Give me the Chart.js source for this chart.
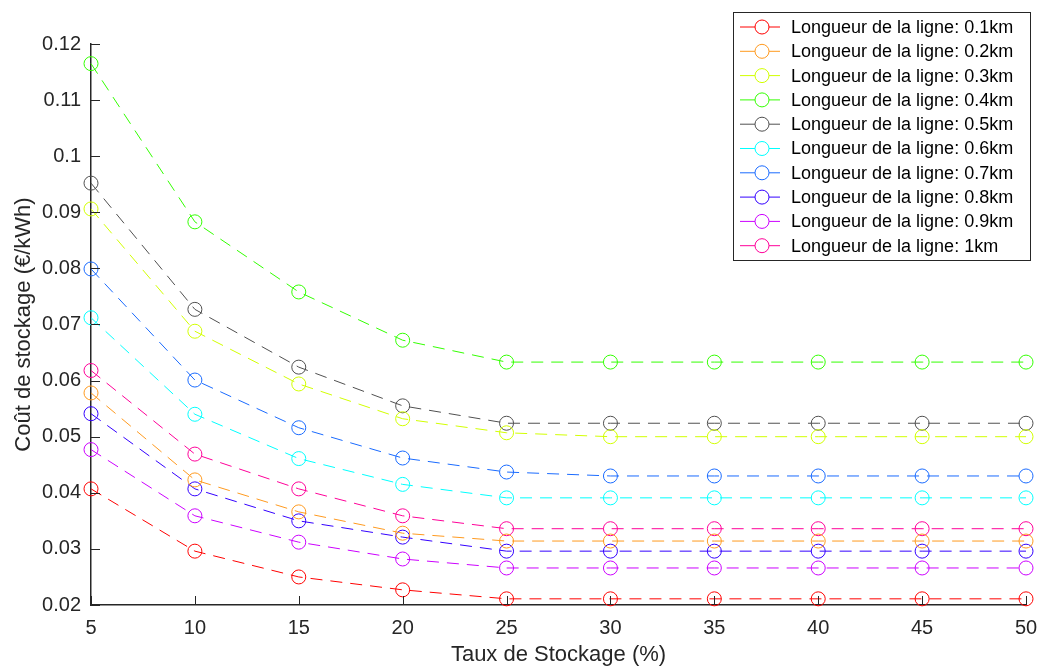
<!DOCTYPE html>
<html>
<head>
<meta charset="utf-8">
<script src="https://cdn.jsdelivr.net/npm/chart.js@4/dist/chart.umd.min.js"></script>
<style>
  html, body { margin: 0; padding: 0; background: #fff; }
  #wrap { width: 1041px; height: 667px; position: relative; }
</style>
</head>
<body>
<div id="wrap"><canvas id="chart"></canvas></div>
<script>
// taux de stockage (%)
const storageRates = [5, 10, 15, 20, 25, 30, 35, 40, 45, 50];

// cout de stockage (€/kWh) par longueur de ligne
const cost01 = [0.0407, 0.0296, 0.0250, 0.0227, 0.0211, 0.0211, 0.0211, 0.0211, 0.0211, 0.0211];
const cost02 = [0.0578, 0.0423, 0.0366, 0.0328, 0.0314, 0.0314, 0.0314, 0.0314, 0.0314, 0.0314];
const cost03 = [0.0906, 0.0688, 0.0594, 0.0532, 0.0507, 0.0500, 0.0500, 0.0500, 0.0500, 0.0500];
const cost04 = [0.1165, 0.0883, 0.0758, 0.0672, 0.0633, 0.0633, 0.0633, 0.0633, 0.0633, 0.0633];
const cost05 = [0.0952, 0.0727, 0.0624, 0.0555, 0.0524, 0.0524, 0.0524, 0.0524, 0.0524, 0.0524];
const cost06 = [0.0712, 0.0540, 0.0461, 0.0415, 0.0391, 0.0391, 0.0391, 0.0391, 0.0391, 0.0391];
const cost07 = [0.0799, 0.0601, 0.0516, 0.0462, 0.0437, 0.0430, 0.0430, 0.0430, 0.0430, 0.0430];
const cost08 = [0.0541, 0.0407, 0.0350, 0.0321, 0.0296, 0.0296, 0.0296, 0.0296, 0.0296, 0.0296];
const cost09 = [0.0477, 0.0359, 0.0312, 0.0282, 0.0266, 0.0266, 0.0266, 0.0266, 0.0266, 0.0266];
const cost10 = [0.0618, 0.0469, 0.0407, 0.0359, 0.0336, 0.0336, 0.0336, 0.0336, 0.0336, 0.0336];

const seriesLabels = [
  'Longueur de la ligne: 0.1km', 'Longueur de la ligne: 0.2km', 'Longueur de la ligne: 0.3km',
  'Longueur de la ligne: 0.4km', 'Longueur de la ligne: 0.5km', 'Longueur de la ligne: 0.6km',
  'Longueur de la ligne: 0.7km', 'Longueur de la ligne: 0.8km', 'Longueur de la ligne: 0.9km',
  'Longueur de la ligne: 1km'
];
const seriesValues = [cost01, cost02, cost03, cost04, cost05, cost06, cost07, cost08, cost09, cost10];
const seriesColors = ['#ff0000', '#ff9a1f', '#d2ff00', '#33ff00', '#505050',
                      '#00ffff', '#1a6bff', '#3300ff', '#cc00ff', '#ff0099'];

const yTicks = [0.02, 0.03, 0.04, 0.05, 0.06, 0.07, 0.08, 0.09, 0.1, 0.11, 0.12];

const FONT = "'Liberation Sans', Arial, Helvetica, sans-serif";
const AXIS = '#262626';

const datasets = seriesValues.map((vals, i) => ({
  label: seriesLabels[i],
  data: storageRates.map((x, j) => ({ x: x, y: vals[j] })),
  borderColor: seriesColors[i],
  backgroundColor: 'transparent',
  borderWidth: 1,
  borderDash: [12, 8],
  tension: 0,
  pointRadius: 7,
  pointBorderWidth: 1,
  pointBorderColor: seriesColors[i],
  pointBackgroundColor: 'transparent',
  clip: false
}));

// ticks vers l'interieur, comme dans matlab
const innerTicks = {
  id: 'innerTicks',
  afterDatasetsDraw(chart) {
    const ctx = chart.ctx;
    const xs = chart.scales.x, ys = chart.scales.y;
    const a = chart.chartArea;
    ctx.save();
    ctx.strokeStyle = AXIS;
    ctx.lineWidth = 1;
    xs.ticks.forEach(t => {
      const px = Math.round(xs.getPixelForValue(t.value)) + 0.5;
      ctx.beginPath(); ctx.moveTo(px, a.bottom); ctx.lineTo(px, a.bottom - 9); ctx.stroke();
    });
    ys.ticks.forEach(t => {
      const py = Math.round(ys.getPixelForValue(t.value)) + 0.5;
      ctx.beginPath(); ctx.moveTo(a.left, py); ctx.lineTo(a.left + 9, py); ctx.stroke();
    });
    ctx.restore();
  }
};

// legende encadree en haut a droite
const boxLegend = {
  id: 'boxLegend',
  afterDraw(chart) {
    const ctx = chart.ctx;
    const x0 = 733, y0 = 12, w = 297, h = 248;
    ctx.save();
    ctx.fillStyle = '#fff';
    ctx.fillRect(x0, y0, w, h);
    ctx.strokeStyle = AXIS;
    ctx.lineWidth = 1;
    ctx.strokeRect(x0 + 0.5, y0 + 0.5, w, h);
    ctx.font = '18px ' + FONT;
    ctx.textBaseline = 'middle';
    chart.data.datasets.forEach((ds, i) => {
      const cy = y0 + 15 + i * 24.3;
      ctx.strokeStyle = ds.borderColor;
      ctx.beginPath(); ctx.moveTo(740, cy); ctx.lineTo(780, cy); ctx.stroke();
      ctx.fillStyle = '#fff';
      ctx.beginPath(); ctx.arc(762, cy, 7, 0, Math.PI * 2); ctx.fill(); ctx.stroke();
      ctx.fillStyle = '#000';
      ctx.fillText(ds.label, 791, cy + 1);
    });
    ctx.restore();
  }
};

new Chart(document.getElementById('chart'), {
  type: 'line',
  data: { datasets: datasets },
  plugins: [innerTicks, boxLegend],
  options: {
    responsive: true,
    maintainAspectRatio: false,
    animation: false,
    layout: { padding: { top: 44, right: 15, left: 0, bottom: 0 } },
    plugins: { legend: { display: false }, tooltip: { enabled: false } },
    scales: {
      x: {
        type: 'linear',
        min: 5, max: 50,
        afterFit: s => { s.height = 62; s.paddingLeft = 0; s.paddingRight = 0; },
        afterBuildTicks: s => { s.ticks = storageRates.map(v => ({ value: v })); },
        grid: { display: false, drawTicks: false },
        border: { display: true, color: AXIS, width: 1.5 },
        ticks: { padding: 11, color: AXIS, font: { family: FONT, size: 20 }, maxRotation: 0 },
        title: { display: true, text: 'Taux de Stockage (%)', color: AXIS,
                 font: { family: FONT, size: 22 }, padding: { top: 0, bottom: -1 } }
      },
      y: {
        type: 'linear',
        min: 0.02, max: 0.12,
        afterFit: s => { s.width = 91; s.paddingTop = 0; s.paddingBottom = 0; },
        afterBuildTicks: s => { s.ticks = yTicks.map(v => ({ value: v })); },
        grid: { display: false, drawTicks: false },
        border: { display: true, color: AXIS, width: 1.5 },
        ticks: { padding: 10, color: AXIS, font: { family: FONT, size: 20 },
                 callback: v => String(Math.round(v * 100) / 100) },
        title: { display: true, text: 'Coût de stockage (€/kWh)', color: AXIS,
                 font: { family: FONT, size: 22 }, padding: { top: 11, bottom: 0 } }
      }
    }
  }
});
</script>
</body>
</html>
